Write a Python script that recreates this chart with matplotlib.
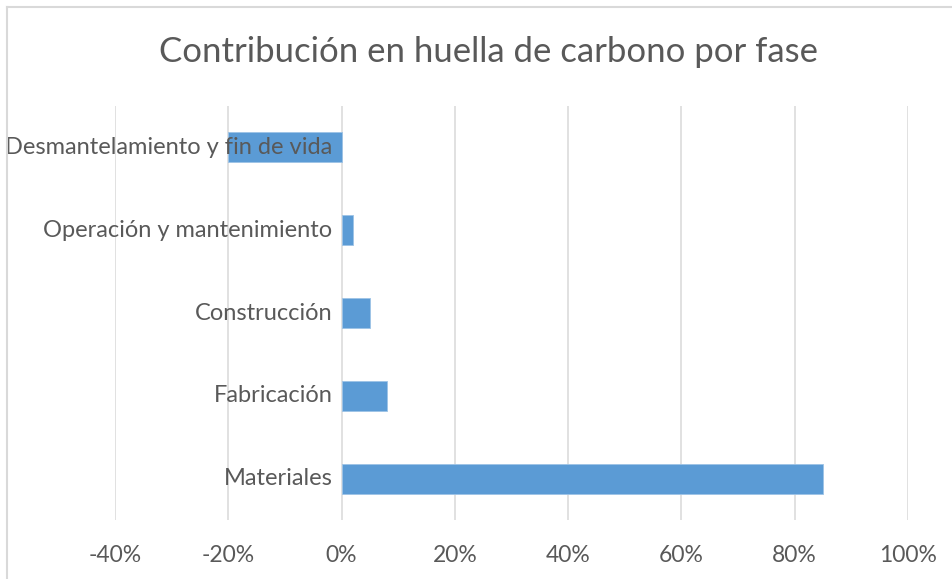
import matplotlib
matplotlib.use("Agg")
import matplotlib.pyplot as plt
from matplotlib.lines import Line2D
from matplotlib.ticker import FuncFormatter
from matplotlib.transforms import offset_copy

# Datos: contribucion de cada fase a la huella de carbono (%)
fases = ["Materiales", "Fabricación", "Construcción",
         "Operación y mantenimiento", "Desmantelamiento y fin de vida"]
contribucion = [85, 8, 5, 2, -20]
ticks_x = [-40, -20, 0, 20, 40, 60, 80, 100]

gris_texto = "#595959"
gris_rejilla = "#D9D9D9"
azul = "#5B9BD5"

plt.rcParams["font.family"] = ["Lato", "DejaVu Sans"]

fig = plt.figure(figsize=(9.52, 5.79), dpi=100)
ax = fig.add_axes([115 / 952, 1 - 520 / 579, (908 - 115) / 952, (520 - 106) / 579])

pos = list(range(len(fases)))
ax.barh(pos, contribucion, height=0.36, color=azul, edgecolor="#9DC3E6",
        linewidth=0.6, zorder=3)

ax.set_xlim(ticks_x[0], ticks_x[-1])
ax.set_ylim(-0.5, len(fases) - 0.5)
ax.set_xticks(ticks_x)
ax.xaxis.set_major_formatter(FuncFormatter(lambda v, p: f"{v:.0f}%"))
ax.grid(axis="x", color=gris_rejilla, linewidth=1.1)
ax.set_axisbelow(True)
ax.tick_params(axis="x", length=0, pad=18, labelsize=16.5, labelcolor=gris_texto)
ax.set_yticks([])
for s in ax.spines.values():
    s.set_color("none")

# etiquetas de categoria junto al eje del 0%, por encima de las barras
trans = offset_copy(ax.transData, fig=fig, x=-9, y=0, units="dots")
for p, nombre in zip(pos, fases):
    ax.text(0, p, nombre, transform=trans, ha="right", va="center",
            fontsize=17, color=gris_texto, zorder=5, clip_on=False)

fig.text(489 / 952, 1 - 52 / 579, "Contribución en huella de carbono por fase",
         ha="center", va="center", fontsize=25, color=gris_texto)

# marco del area del grafico
fig.add_artist(Line2D([7 / 952, 7 / 952], [0, 1 - 7 / 579], transform=fig.transFigure,
                      color=gris_rejilla, linewidth=1.5))
fig.add_artist(Line2D([7 / 952, 1], [1 - 7 / 579, 1 - 7 / 579], transform=fig.transFigure,
                      color=gris_rejilla, linewidth=1.5))

fig.savefig("out.png", dpi=100, facecolor="white")
